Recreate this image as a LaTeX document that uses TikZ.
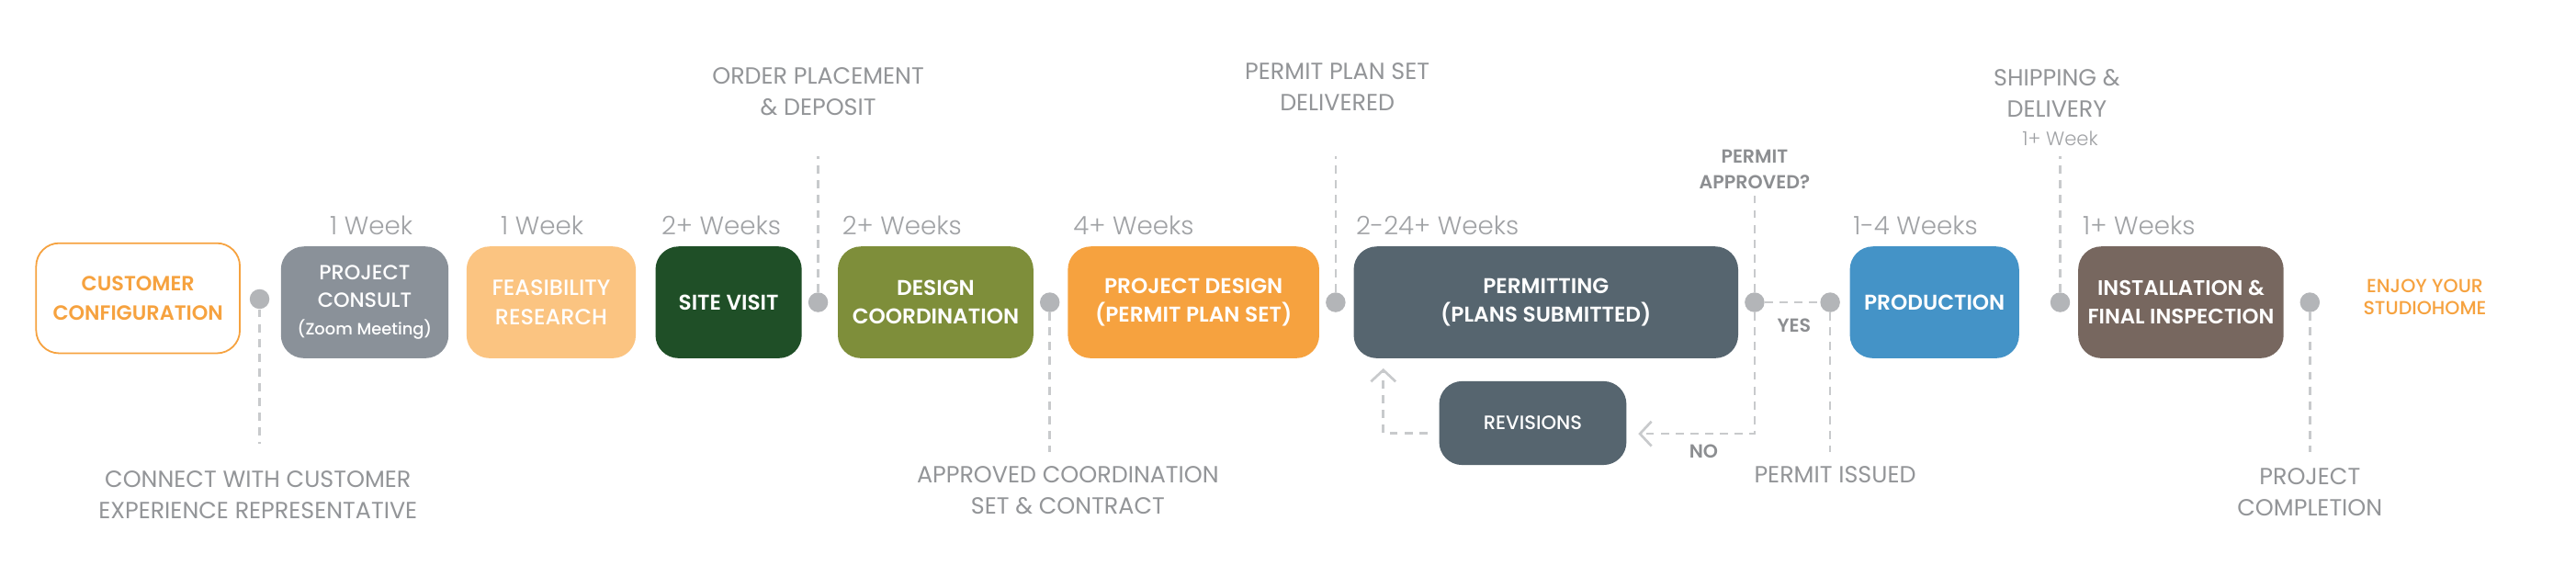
\documentclass[tikz,border=0pt]{standalone}
\usepackage{fontspec}
\setmainfont{Poppins}
\newfontfamily\plight{Poppins Light}
\newfontfamily\pmed{Poppins Medium}
\newfontfamily\psemi{Poppins SemiBold}
\usetikzlibrary{arrows.meta}
\definecolor{cOrange}{HTML}{F6A23F}
\definecolor{cFeas}{HTML}{FBC481}
\definecolor{cConsult}{HTML}{8A9199}
\definecolor{cGreen}{HTML}{1F4F27}
\definecolor{cOlive}{HTML}{7E8E3A}
\definecolor{cSlate}{HTML}{56656F}
\definecolor{cBlue}{HTML}{4493C7}
\definecolor{cBrown}{HTML}{77675F}
\definecolor{cDot}{HTML}{B3B5B8}
\definecolor{cLine}{HTML}{C8CACC}
\definecolor{cWeek}{HTML}{A0A2A5}
\definecolor{cMile}{HTML}{939598}
\definecolor{cBold}{HTML}{8C8E91}
\begin{document}
\begin{tikzpicture}[x=1pt,y=-1pt,
  stepbox/.style={rounded corners=14pt, minimum height=68pt, inner sep=0pt, align=center, text=white,
    font=\psemi\fontsize{13}{17.5}\selectfont},
  lightbox/.style={stepbox, font=\pmed\fontsize{13.4}{17.5}\selectfont},
  dot/.style={circle, fill=cDot, minimum size=12pt, inner sep=0pt},
  dline/.style={draw=cLine, line width=1.5pt, dash pattern=on 5pt off 4pt},
  tip/.style={-{Straight Barb[length=7pt,width=15pt,line width=1.5pt]}},
  wk/.style={text=cWeek, inner sep=0pt, font=\plight\fontsize{15.5}{18}\selectfont},
  ms/.style={text=cMile, align=center, inner sep=0pt, font=\fontsize{14.2}{19}\selectfont},
  bl/.style={text=cBold, align=center, inner sep=0pt, font=\psemi\fontsize{11.5}{16}\selectfont}
]
\useasboundingbox[fill=white] (0,0) rectangle (1568,351);

% step boxes
\node[stepbox, minimum width=124pt, minimum height=67pt, draw=cOrange, line width=1pt, fill=white, text=cOrange,
  font=\psemi\fontsize{12.5}{17.5}\selectfont] (cust) at (84,181.5) {CUSTOMER\\CONFIGURATION};
\node[lightbox, minimum width=102pt, fill=cConsult, font=\pmed\fontsize{12.5}{17}\selectfont] (consult) at (222,184)
  {PROJECT\\CONSULT\\{\fontsize{10}{12}\selectfont (Zoom Meeting)}};
\node[lightbox, minimum width=103pt, fill=cFeas] (feas) at (335.5,184) {FEASIBILITY\\RESEARCH};
\node[stepbox, minimum width=89pt, fill=cGreen] (site) at (443.5,184) {SITE VISIT};
\node[stepbox, minimum width=119pt, fill=cOlive] (dcoord) at (569.5,184) {DESIGN\\COORDINATION};
\node[stepbox, minimum width=153pt, fill=cOrange] (pdes) at (726.5,184) {PROJECT DESIGN\\(PERMIT PLAN SET)};
\node[stepbox, minimum width=234pt, fill=cSlate] (permit) at (941,184) {PERMITTING\\(PLANS SUBMITTED)};
\node[lightbox, minimum width=114pt, minimum height=51pt, fill=cSlate, font=\pmed\fontsize{11.8}{14}\selectfont] (rev) at (933,257.5) {REVISIONS};
\node[stepbox, minimum width=103pt, fill=cBlue] (prod) at (1177.5,184) {PRODUCTION};
\node[stepbox, minimum width=125pt, fill=cBrown, font=\psemi\fontsize{12.8}{17.5}\selectfont] (inst) at (1327.5,184) {INSTALLATION \&\\FINAL INSPECTION};

% milestone dots
\node[dot] (d1) at (158,182) {};
\node[dot] (d2) at (498,184) {};
\node[dot] (d3) at (639,184) {};
\node[dot] (d4) at (813,184) {};
\node[dot] (d5) at (1068,184) {};
\node[dot] (d6) at (1114,184) {};
\node[dot] (d7) at (1254,184) {};
\node[dot] (d8) at (1406,184) {};

% free ends of the milestone lines
\coordinate (e1) at (158,270);
\coordinate (e2) at (498,95);
\coordinate (e3) at (639,275);
\coordinate (e4) at (813,95);
\coordinate (e5) at (1068,119);
\coordinate (e6) at (1114,275);
\coordinate (e7) at (1254,95);
\coordinate (e8) at (1406,275);
\foreach \d in {1,...,8}{\draw[dline] (d\d) -- (e\d);}
\draw[dline] (d5) -- (d6);

% NO branch and revision loop
\coordinate (noT) at ([xshift=7pt,yshift=-6.5pt]rev.east);
\draw[dline, tip] (d5) |- (noT);
\coordinate (rvS) at ([xshift=-7pt,yshift=-6pt]rev.west);
\coordinate (rvT) at ([yshift=-6pt]permit.south -| 842,0);
\draw[dline, tip] (rvS) -| (rvT);

% durations
\node[wk] (w1) at (226,137) {1 Week};
\node[wk] (w2) at (330,137) {1 Week};
\node[wk] (w3) at (439,137) {2+ Weeks};
\node[wk] (w4) at (549,137) {2+ Weeks};
\node[wk] (w5) at (690,137) {4+ Weeks};
\node[wk] (w6) at (875,137) {2-24+ Weeks};
\node[wk] (w7) at (1166,137) {1-4 Weeks};
\node[wk] (w8) at (1302,137) {1+ Weeks};

% milestone labels
\node[ms] (m1) at (157,301) {CONNECT WITH CUSTOMER\\EXPERIENCE REPRESENTATIVE};
\node[ms] (m2) at (498,55.5) {ORDER PLACEMENT\\\& DEPOSIT};
\node[ms] (m3) at (650,298.5) {APPROVED COORDINATION\\SET \& CONTRACT};
\node[ms] (m4) at (814,53) {PERMIT PLAN SET\\DELIVERED};
\node[ms] (m6) at (1117,289) {PERMIT ISSUED};
\node[ms] (m7) at (1252,57) {SHIPPING \&\\DELIVERY};
\node[wk, font=\plight\fontsize{11.8}{13}\selectfont] (m7b) at (1254,84.5) {1+ Week};
\node[ms] (m8) at (1406,299.5) {PROJECT\\COMPLETION};
\node[bl] (m5) at (1068,103) {PERMIT\\APPROVED?};
\node[bl] (yes) at (1092,198) {YES};
\node[bl] (no) at (1037,275) {NO};
\node[align=center, inner sep=0pt, text=cOrange, font=\pmed\fontsize{11.5}{13.5}\selectfont] (enjoy) at (1476,181)
  {ENJOY YOUR\\STUDIOHOME};
\end{tikzpicture}
\end{document}
